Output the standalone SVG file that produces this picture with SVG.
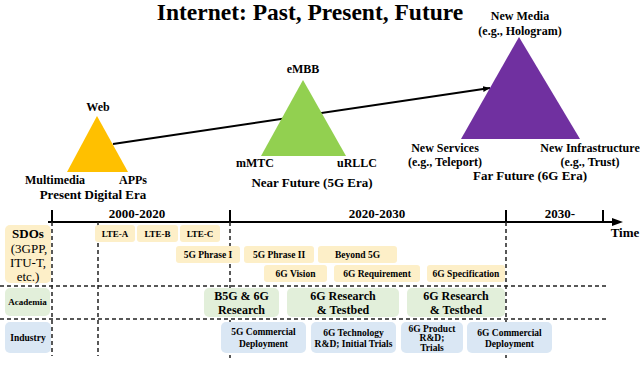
<svg xmlns="http://www.w3.org/2000/svg" width="640" height="373" viewBox="0 0 640 373">
<style>
text{font-family:"Liberation Serif","Times New Roman",serif;font-weight:bold;fill:#000;text-anchor:middle}
.t{font-size:23.5px}
.l{font-size:12px}
.e{font-size:13px}
.s{font-size:9px}
.m{font-size:9.5px}
.b{font-size:12px}
.r{font-weight:normal;font-size:13px}
.y{fill:#FDEFC8}
.g{fill:#E2EFDA}
.u{fill:#DAE7F4}
.d{stroke:#222;stroke-width:1.5;stroke-dasharray:4 3;fill:none}
.ax{stroke:#000;stroke-width:2;fill:none}
</style>
<defs>
<marker id="ah" markerWidth="8" markerHeight="8" refX="7" refY="4" orient="auto" markerUnits="userSpaceOnUse">
<path d="M0,1 L7,4 L0,7 Z" fill="#000"/>
</marker>
</defs>
<rect width="640" height="373" fill="#fff"/>
<text class="t" x="310" y="20">Internet: Past, Present, Future</text>

<g id="connectors">
<line x1="113" y1="144" x2="490" y2="88" stroke="#000" stroke-width="2" marker-end="url(#ah)"/>
<line class="ax" x1="48" y1="222" x2="617" y2="222"/>
<path d="M612,218 L623,222 L612,226 Z" fill="#000"/>
<line class="ax" x1="52" y1="210" x2="52" y2="222"/>
<line class="ax" x1="230" y1="210" x2="230" y2="222"/>
<line class="ax" x1="506" y1="210" x2="506" y2="222"/>
<line class="ax" x1="603" y1="210" x2="603" y2="222"/>
<line class="d" x1="52" y1="222" x2="52" y2="356"/>
<line class="d" x1="98" y1="222" x2="98" y2="356"/>
<line class="d" x1="230" y1="222" x2="230" y2="358"/>
<line class="d" x1="506" y1="222" x2="506" y2="358"/>
<line class="d" x1="0" y1="286" x2="606" y2="286"/>
<line class="d" x1="0" y1="319" x2="606" y2="319"/>
</g>

<g id="era-present">
<polygon points="97,116 67,172 128,172" fill="#FFC000"/>
<text class="l" x="98" y="111">Web</text>
<text class="l" x="55" y="184">Multimedia</text>
<text class="l" x="133" y="184">APPs</text>
<text class="e" x="93" y="199">Present Digital Era</text>
</g>

<g id="era-5g">
<polygon points="303,80 261,156 346,156" fill="#92D050"/>
<text class="l" x="303" y="73">eMBB</text>
<text class="l" x="255" y="167">mMTC</text>
<text class="l" x="357" y="167">uRLLC</text>
<text class="e" x="312" y="187">Near Future (5G Era)</text>
</g>

<g id="era-6g">
<polygon points="519,37 461,139 580,139" fill="#7030A0"/>
<text class="l" x="520" y="20">New Media</text>
<text class="l" x="520" y="35">(e.g., Hologram)</text>
<text class="l" x="445" y="152">New Services</text>
<text class="l" x="445" y="166">(e.g., Teleport)</text>
<text class="l" x="590" y="152">New Infrastructure</text>
<text class="l" x="590" y="166">(e.g., Trust)</text>
<text class="e" x="530" y="180">Far Future (6G Era)</text>
</g>

<g id="timeline-labels">
<text class="e" x="137" y="218">2000-2020</text>
<text class="e" x="377" y="218">2020-2030</text>
<text class="e" x="560" y="218">2030-</text>
<text class="e" x="625" y="237">Time</text>
</g>

<g id="row-sdos">
<rect class="y" x="5" y="225" width="46" height="58" rx="5"/>
<text class="e" x="28" y="238">SDOs</text>
<text class="r" x="29" y="253">(3GPP,</text>
<text class="r" x="28" y="267">ITU-T,</text>
<text class="r" x="28" y="281">etc.)</text>
</g>
<g id="lte-a"><rect class="y" x="95" y="225" width="40" height="17" rx="3"/><text class="s" x="115" y="237">LTE-A</text></g>
<g id="lte-b"><rect class="y" x="137" y="225" width="41" height="17" rx="3"/><text class="s" x="157.5" y="237">LTE-B</text></g>
<g id="lte-c"><rect class="y" x="180" y="225" width="40" height="17" rx="3"/><text class="s" x="200" y="237">LTE-C</text></g>
<g id="phrase1"><rect class="y" x="176" y="246" width="64" height="17" rx="3"/><text class="m" x="208" y="258">5G Phrase I</text></g>
<g id="phrase2"><rect class="y" x="244" y="246" width="70" height="17" rx="3"/><text class="m" x="279" y="258">5G Phrase II</text></g>
<g id="beyond5g"><rect class="y" x="318" y="246" width="79" height="17" rx="3"/><text class="m" x="357.5" y="258">Beyond 5G</text></g>
<g id="vision6g"><rect class="y" x="264" y="265" width="63" height="17" rx="3"/><text class="m" x="295.5" y="277">6G Vision</text></g>
<g id="req6g"><rect class="y" x="334" y="265" width="86" height="17" rx="3"/><text class="m" x="377" y="277">6G Requirement</text></g>
<g id="spec6g"><rect class="y" x="427" y="265" width="78" height="17" rx="3"/><text class="m" x="466" y="277">6G Specification</text></g>

<g id="row-academia">
<rect class="g" x="5" y="288" width="45" height="28" rx="5"/>
<text class="s" x="27.5" y="305">Academia</text>
</g>
<g id="b5g"><rect class="g" x="204" y="288" width="75" height="29" rx="5"/><text class="b" x="241.5" y="299.5">B5G &amp; 6G</text><text class="b" x="241.5" y="313.5">Research</text></g>
<g id="research1"><rect class="g" x="287" y="288" width="112" height="29" rx="5"/><text class="b" x="343" y="299.5">6G Research</text><text class="b" x="343" y="313.5">&amp; Testbed</text></g>
<g id="research2"><rect class="g" x="407" y="288" width="98" height="29" rx="5"/><text class="b" x="456" y="299.5">6G Research</text><text class="b" x="456" y="313.5">&amp; Testbed</text></g>

<g id="row-industry">
<rect class="u" x="5" y="322" width="46" height="31" rx="5"/>
<text class="m" x="28" y="341">Industry</text>
</g>
<g id="commercial5g"><rect class="u" x="221" y="322" width="85" height="31" rx="5"/><text class="m" x="263.5" y="335">5G Commercial</text><text class="m" x="263.5" y="347">Deployment</text></g>
<g id="tech6g"><rect class="u" x="311" y="322" width="85" height="31" rx="5"/><text class="m" x="353.5" y="336">6G Technology</text><text class="m" x="353.5" y="347">R&amp;D; Initial Trials</text></g>
<g id="product6g"><rect class="u" x="401" y="322" width="62" height="31" rx="5"/><text class="m" x="432" y="332">6G Product</text><text class="m" x="432" y="341">R&amp;D;</text><text class="m" x="432" y="350.5">Trials</text></g>
<g id="commercial6g"><rect class="u" x="467" y="322" width="85" height="31" rx="5"/><text class="m" x="509.5" y="336">6G Commercial</text><text class="m" x="509.5" y="347">Deployment</text></g>
</svg>
